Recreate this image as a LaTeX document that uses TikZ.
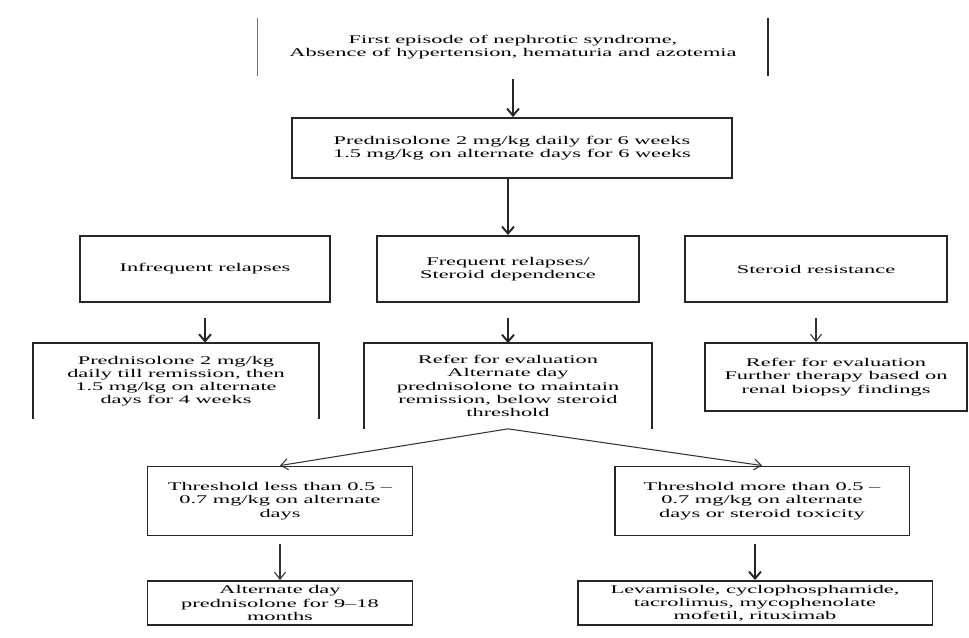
\documentclass[tikz,border=0pt]{standalone}
\usepackage{fontspec}
\setmainfont{Liberation Serif}
\newfontfamily\boxfont[FakeStretch=1.9]{Liberation Serif}
\usetikzlibrary{arrows.meta}

\begin{document}
\begin{tikzpicture}[x=0.02cm,y=-0.02cm,
  txt/.style={align=center,inner sep=0pt,
    font=\boxfont\fontsize{6.7}{7.5}\selectfont},
  box/.style={txt,draw=black!85,line width=1.1pt},
  openbox/.style={txt},
  side/.style={draw=black!85,line width=1.1pt},
  arr/.style={draw=black!85,line width=1.1pt,
    -{Straight Barb[length=0.14cm,width=0.24cm]}},
  thinarr/.style={draw=black!80,line width=0.6pt,
    -{Straight Barb[length=0.14cm,width=0.22cm]}}
]
\useasboundingbox (0,0) rectangle (969,637);

% starting condition (only the side rules are drawn)
\node[openbox,minimum width=10.2cm,minimum height=1.14cm] (first) at (513,47)
  {First episode of nephrotic syndrome,\\Absence of hypertension, hematuria and azotemia};
\draw[draw=black!55,line width=0.6pt] (first.north west) -- (first.south west);
\draw[side] (first.north east) -- (first.south east);

% initial treatment
\node[box,minimum width=8.8cm,minimum height=1.2cm] (pred) at (512,148)
  {Prednisolone 2 mg/kg daily for 6 weeks\\1.5 mg/kg on alternate days for 6 weeks};

% course after treatment
\node[box,minimum width=5.0cm,minimum height=1.32cm] (inf) at (205,269)
  {Infrequent relapses};
\node[box,minimum width=5.24cm,minimum height=1.32cm] (freq) at (508,269)
  {Frequent relapses/\\Steroid dependence};
\node[box,minimum width=5.24cm,minimum height=1.32cm] (res) at (816,269)
  {Steroid resistance};

% management of each course
\node[openbox,minimum width=5.7cm,minimum height=1.52cm] (relapse) at (176,381)
  {Prednisolone 2 mg/kg\\daily till remission, then\\1.5 mg/kg on alternate\\days for 4 weeks};
\draw[side] (relapse.south west) -- (relapse.north west) -- (relapse.north east) -- (relapse.south east);

\node[openbox,minimum width=5.74cm,minimum height=1.7cm] (depend) at (508,386)
  {Refer for evaluation\\Alternate day\\prednisolone to maintain\\remission, below steroid\\threshold};
\draw[side] (depend.south west) -- (depend.north west) -- (depend.north east) -- (depend.south east);

\node[box,minimum width=5.24cm,minimum height=1.36cm] (resist) at (836,377)
  {Refer for evaluation\\Further therapy based on\\renal biopsy findings};

% steroid threshold
\node[box,minimum width=5.3cm,minimum height=1.38cm] (low) at (280,501)
  {Threshold less than 0.5 –\\0.7 mg/kg on alternate\\days};
\node[box,minimum width=5.9cm,minimum height=1.38cm] (high) at (762,501)
  {Threshold more than 0.5 –\\0.7 mg/kg on alternate\\days or steroid toxicity};

% long-term therapy
\node[box,minimum width=5.3cm,minimum height=0.88cm] (alt) at (280,603)
  {Alternate day\\prednisolone for 9–18\\months};
\node[box,minimum width=7.1cm,minimum height=0.88cm] (drugs) at (755,603)
  {Levamisole, cyclophosphamide,\\tacrolimus, mycophenolate\\mofetil, rituximab};

% connectors
\draw[arr,shorten <=0.06cm] (first.south) -- (first.south |- pred.north);
\draw[arr] (pred.south -| freq.north) -- (freq.north);
\draw[arr,shorten <=0.3cm] (inf.south) -- (inf.south |- relapse.north);
\draw[arr,shorten <=0.3cm] (freq.south) -- (depend.north);
\draw[thinarr,shorten <=0.3cm] (res.south) -- (res.south |- resist.north);
\draw[thinarr] (depend.south) -- (low.north);
\draw[thinarr] (depend.south) -- (high.north);
\draw[thinarr,shorten <=0.15cm] (low.south) -- (alt.north);
\draw[arr,shorten <=0.15cm] (high.south -| drugs.north) -- (drugs.north);
\end{tikzpicture}
\end{document}
